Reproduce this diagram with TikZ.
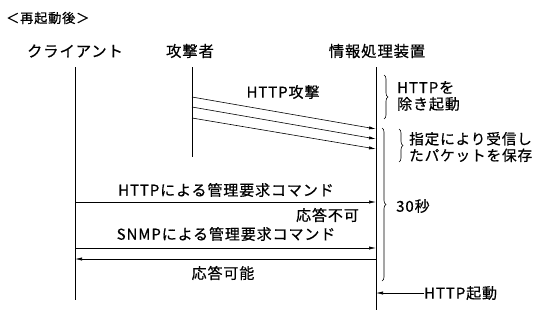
\documentclass[tikz,border=0pt]{standalone}
\usepackage{fontspec}
\setmainfont{Noto Sans CJK JP}[LetterSpace=6,FakeBold=0.6]
\usetikzlibrary{arrows.meta,decorations.pathreplacing}
\begin{document}
\begin{tikzpicture}[x=1pt,y=-1pt,
  lbl/.style={inner sep=0pt,font=\fontsize{15}{16.5}\selectfont},
  head/.style={inner sep=0pt,font=\fontsize{15.3}{17}\selectfont},
  life/.style={line width=0.9pt},
  msg/.style={line width=0.6pt,-{Latex[length=7pt,width=3.2pt]}},
  brc/.style={line width=0.6pt,decorate,decoration={brace,amplitude=4pt}}]
\useasboundingbox (0,0) rectangle (540,327);
% title
\node[inner sep=0pt,anchor=west,font=\fontsize{13.2}{14}\selectfont] (title) at (6,18) {＜再起動後＞};
% heads
\node[head] (cl) at (75,51) {クライアント};
\node[head] (at) at (190,51) {攻撃者};
\node[head] (sv) at (377,51) {情報処理装置};
% lifelines
\coordinate (clT) at (75,67); \coordinate (clB) at (75,300);
\coordinate (atT) at (192,67); \coordinate (atB) at (192,157);
\coordinate (svT) at (376,67); \coordinate (svB) at (376,310);
\draw[life] (clT) -- (clB);
\draw[life] (atT) -- (atB);
\draw[life] (svT) -- (svB);
% attacks
\coordinate (a1) at (192,97); \coordinate (b1) at (376,129);
\coordinate (a2) at (192,107); \coordinate (b2) at (376,139);
\coordinate (a3) at (192,118); \coordinate (b3) at (376,149);
\draw[msg] (a1) -- (b1);
\draw[msg] (a2) -- (b2);
\draw[msg] (a3) -- (b3);
\node[lbl] (atk) at (283,92) {HTTP攻撃};
% braces
\coordinate (br1a) at (384,75); \coordinate (br1b) at (384,119);
\draw[brc] (br1a) -- (br1b);
\node[lbl,anchor=west,align=left] (br1t) at (397,96) {HTTPを\\除き起動};
\coordinate (br2a) at (399,129); \coordinate (br2b) at (399,162);
\draw[brc] (br2a) -- (br2b);
\node[lbl,anchor=west,align=left,font=\fontsize{14.6}{16.5}\selectfont] (br2t) at (409,147) {指定により受信し\\たパケットを保存};
\coordinate (br3a) at (382,128); \coordinate (br3b) at (382,281);
\draw[brc] (br3a) -- (br3b);
\node[lbl,anchor=west] (br3t) at (396,206) {30秒};
% commands
\coordinate (h1) at (75,202); \coordinate (h2) at (376,202);
\draw[msg] (h1) -- (h2);
\node[lbl] (ht) at (226,190) {HTTPによる管理要求コマンド};
\node[lbl,anchor=east] (ng) at (359,215) {応答不可};
\coordinate (s1) at (75,248); \coordinate (s2) at (376,248);
\draw[msg] (s1) -- (s2);
\node[lbl] (st) at (226,234) {SNMPによる管理要求コマンド};
\coordinate (r1) at (376,259); \coordinate (r2) at (75,259);
\draw[msg] (r1) -- (r2);
\node[lbl] (ok) at (223,273) {応答可能};
% HTTP start
\node[lbl,anchor=west] (hs) at (424,293) {HTTP起動};
\coordinate (hse) at (376,293);
\draw[msg] (hs.west) -- (hse);
\end{tikzpicture}
\end{document}
